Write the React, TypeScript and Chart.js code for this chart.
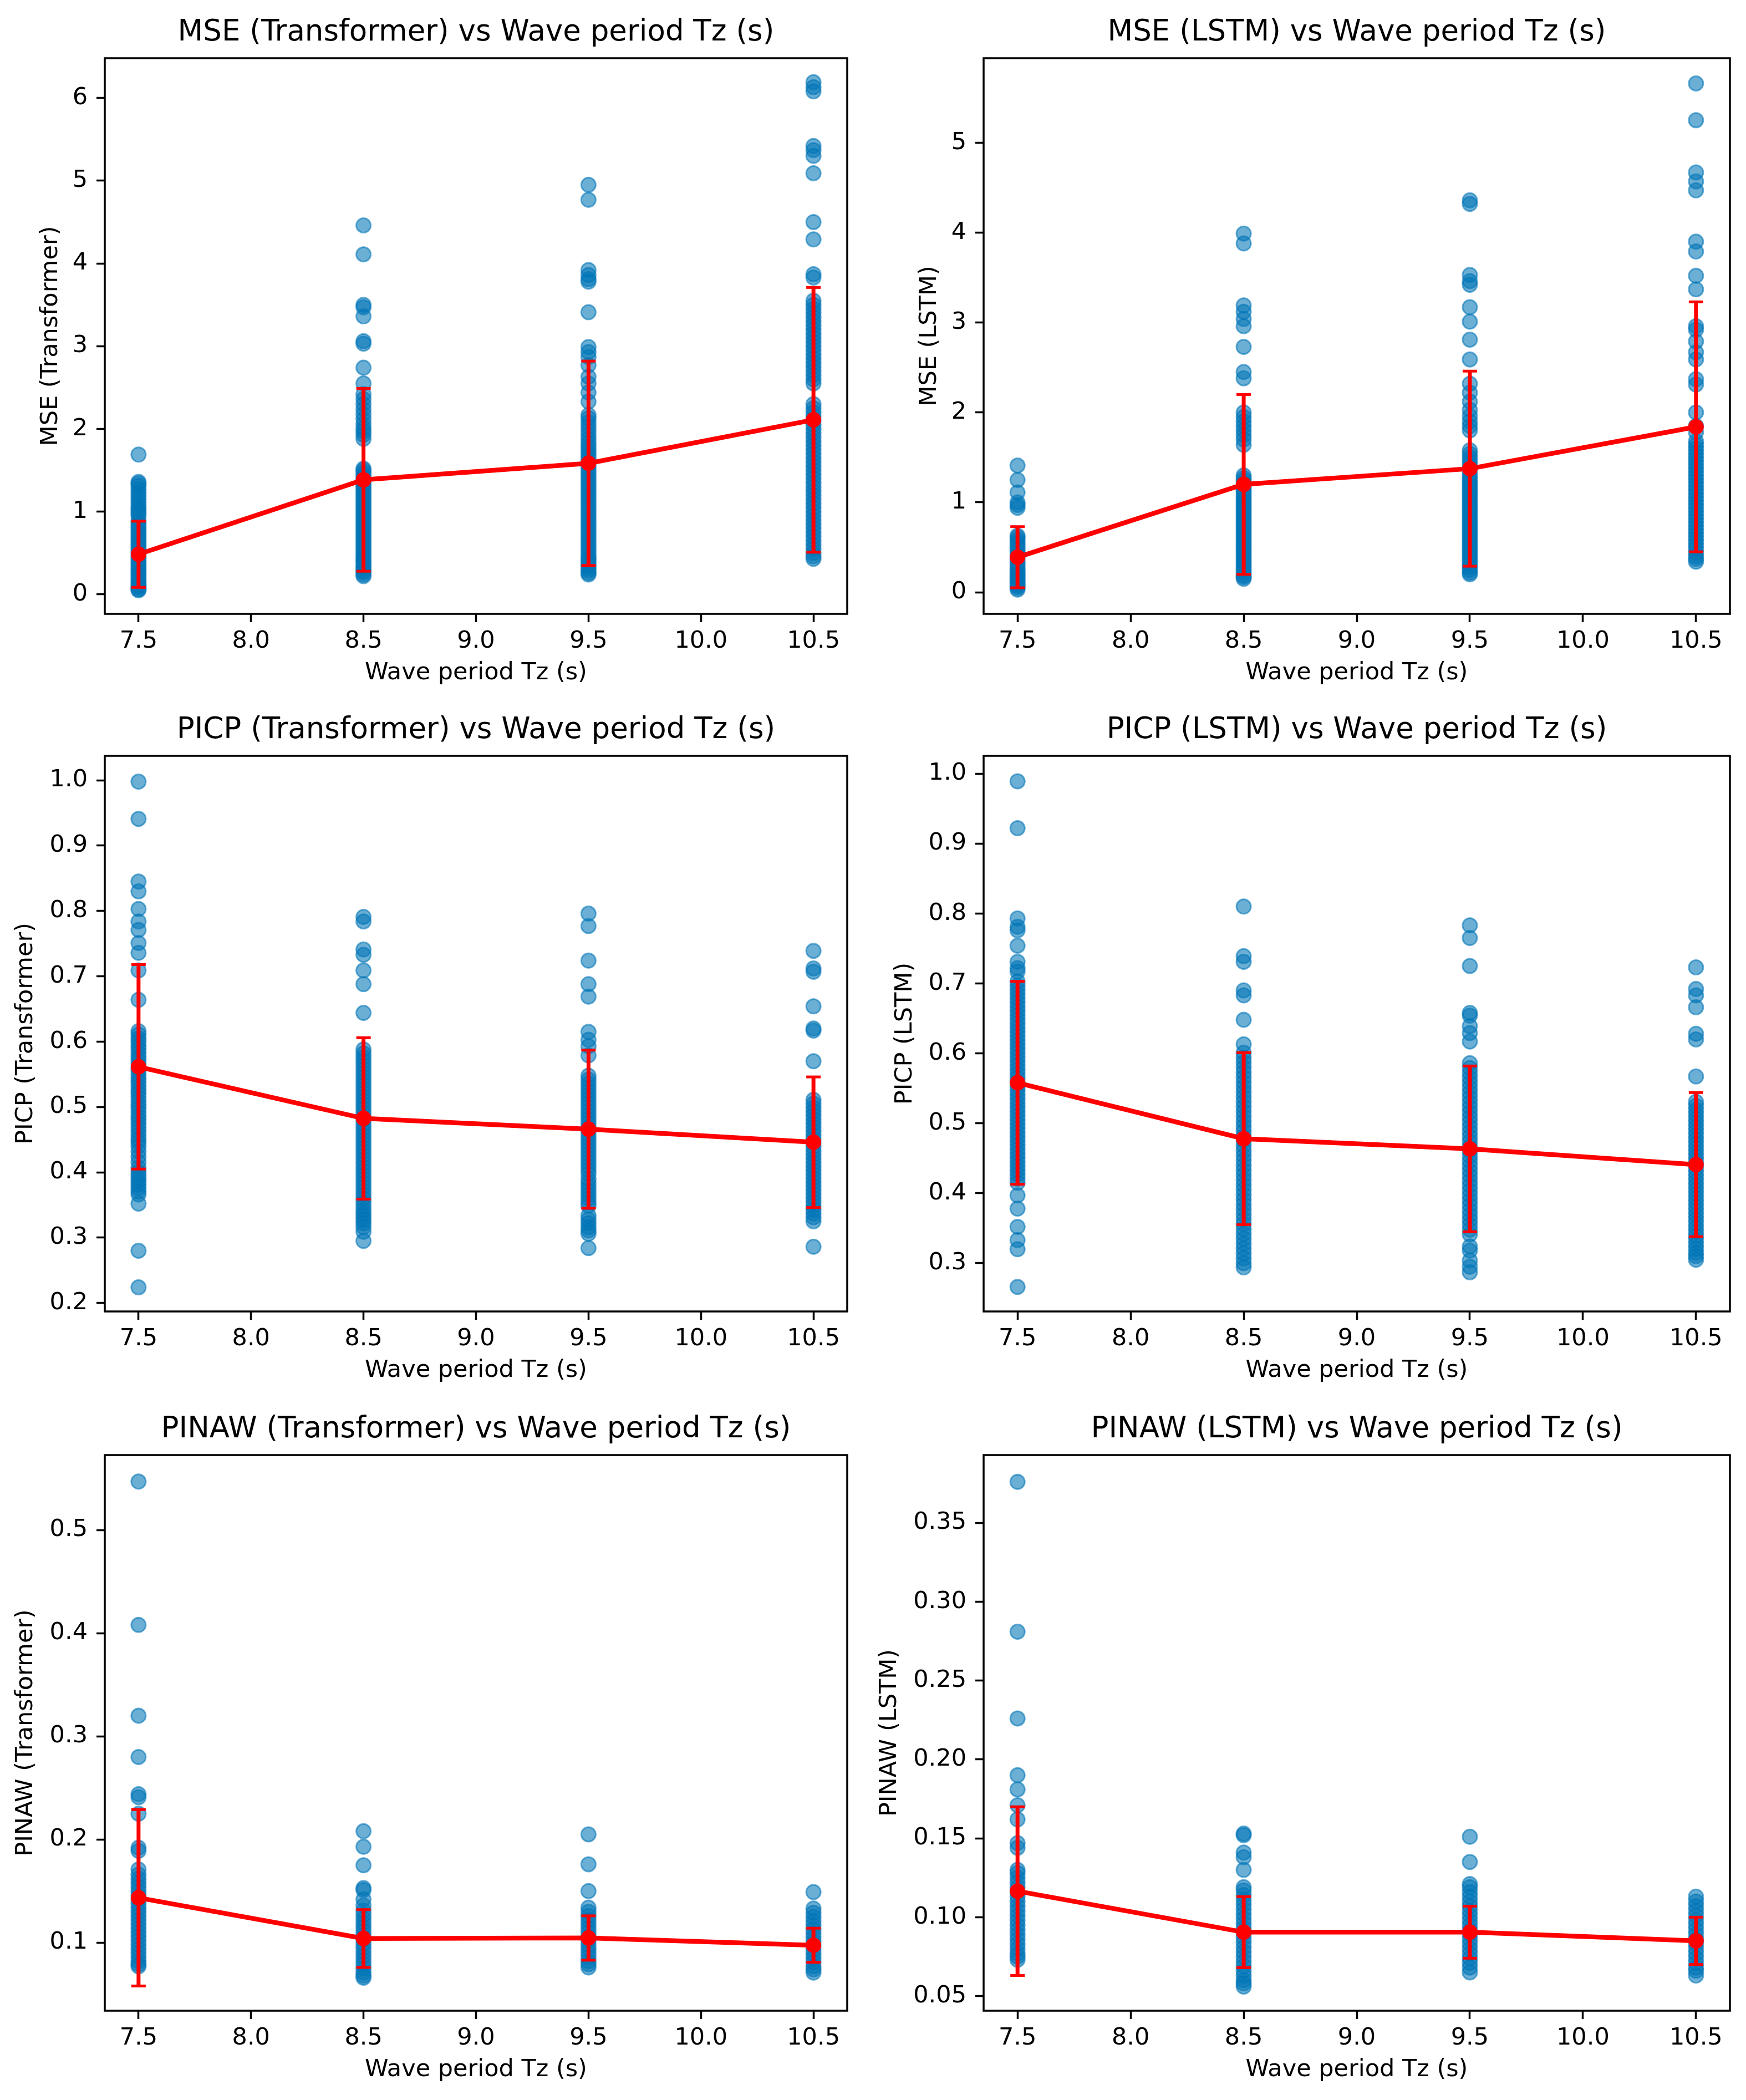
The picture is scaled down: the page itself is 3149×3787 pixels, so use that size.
import React, { useEffect, useRef } from 'react';
import { Chart, registerables } from 'chart.js';

Chart.register(...registerables);

// ---------------- data ----------------
const periods = [7.5, 8.5, 9.5, 10.5];
const xTicks = [7.5, 8.0, 8.5, 9.0, 9.5, 10.0, 10.5];
const xLabel = 'Wave period Tz (s)';

// MSE (Transformer)
const mseTransformerPoints = [
  [1.69, 1.36, 1.34, 1.31, 1.27, 1.23, 1.19, 1.15, 1.11, 1.07, 1.04, 1.01, 0.98, 0.95, 0.89, 0.86, 0.83, 0.80, 0.77, 0.74, 0.71, 0.68, 0.65, 0.62, 0.59, 0.56, 0.53, 0.50, 0.47, 0.44, 0.41, 0.38, 0.35, 0.32, 0.29, 0.26, 0.23, 0.20, 0.17, 0.14, 0.12, 0.10, 0.08, 0.06, 0.05],
  [4.46, 4.11, 3.50, 3.47, 3.36, 3.06, 3.03, 2.74, 2.55, 2.42, 2.36, 2.30, 2.24, 2.18, 2.12, 2.06, 2.01, 1.97, 1.93, 1.88, 1.52, 1.50, 1.47, 1.44, 1.41, 1.38, 1.35, 1.32, 1.29, 1.26, 1.23, 1.20, 1.17, 1.14, 1.11, 1.08, 1.05, 1.02, 0.99, 0.96, 0.93, 0.90, 0.87, 0.84, 0.81, 0.78, 0.75, 0.72, 0.69, 0.66, 0.63, 0.60, 0.57, 0.54, 0.51, 0.48, 0.45, 0.42, 0.40, 0.37, 0.34, 0.32, 0.29, 0.27, 0.24, 0.22],
  [4.95, 4.77, 3.92, 3.86, 3.81, 3.78, 3.41, 2.99, 2.93, 2.87, 2.77, 2.63, 2.55, 2.44, 2.33, 2.17, 2.13, 2.08, 2.03, 1.98, 1.93, 1.88, 1.83, 1.79, 1.75, 1.71, 1.67, 1.63, 1.59, 1.55, 1.51, 1.47, 1.43, 1.39, 1.35, 1.31, 1.27, 1.23, 1.19, 1.15, 1.11, 1.07, 1.03, 0.99, 0.95, 0.91, 0.87, 0.83, 0.79, 0.75, 0.71, 0.67, 0.63, 0.59, 0.55, 0.51, 0.47, 0.44, 0.41, 0.38, 0.35, 0.32, 0.29, 0.26, 0.24],
  [6.19, 6.13, 6.08, 5.42, 5.37, 5.30, 5.09, 4.50, 4.29, 3.87, 3.83, 3.55, 3.50, 3.45, 3.40, 3.35, 3.30, 3.25, 3.20, 3.15, 3.10, 3.05, 3.00, 2.95, 2.90, 2.85, 2.80, 2.75, 2.70, 2.65, 2.60, 2.55, 2.30, 2.25, 2.20, 2.15, 2.10, 2.05, 2.00, 1.95, 1.90, 1.85, 1.80, 1.75, 1.70, 1.65, 1.60, 1.55, 1.50, 1.45, 1.40, 1.35, 1.30, 1.25, 1.20, 1.15, 1.10, 1.05, 1.00, 0.95, 0.90, 0.85, 0.80, 0.75, 0.70, 0.65, 0.60, 0.55, 0.50, 0.46, 0.43],
];
const mseTransformerMean = [0.485, 1.385, 1.585, 2.11];
const mseTransformerStd = [0.40, 1.105, 1.235, 1.60];
const mseTransformerTicks = [0, 1, 2, 3, 4, 5, 6];

// MSE (LSTM)
const mseLstmPoints = [
  [1.41, 1.25, 1.11, 1.00, 0.97, 0.94, 0.63, 0.61, 0.58, 0.55, 0.52, 0.49, 0.46, 0.43, 0.40, 0.37, 0.34, 0.31, 0.28, 0.25, 0.23, 0.21, 0.19, 0.17, 0.15, 0.13, 0.11, 0.09, 0.07, 0.05, 0.03],
  [3.99, 3.88, 3.19, 3.12, 3.04, 2.96, 2.73, 2.45, 2.38, 2.00, 1.95, 1.90, 1.85, 1.80, 1.75, 1.70, 1.64, 1.30, 1.27, 1.24, 1.21, 1.18, 1.15, 1.12, 1.09, 1.06, 1.03, 1.00, 0.97, 0.94, 0.91, 0.88, 0.85, 0.82, 0.79, 0.76, 0.73, 0.70, 0.67, 0.64, 0.61, 0.58, 0.55, 0.52, 0.49, 0.46, 0.43, 0.40, 0.37, 0.34, 0.31, 0.28, 0.25, 0.22, 0.19, 0.17, 0.15],
  [4.36, 4.32, 3.53, 3.46, 3.42, 3.17, 3.01, 2.81, 2.59, 2.32, 2.22, 2.12, 2.03, 1.96, 1.90, 1.85, 1.80, 1.58, 1.54, 1.50, 1.46, 1.42, 1.38, 1.34, 1.30, 1.27, 1.24, 1.21, 1.18, 1.15, 1.12, 1.09, 1.06, 1.03, 1.00, 0.97, 0.94, 0.91, 0.88, 0.85, 0.82, 0.79, 0.76, 0.73, 0.70, 0.67, 0.64, 0.61, 0.58, 0.55, 0.52, 0.49, 0.46, 0.43, 0.40, 0.37, 0.34, 0.31, 0.28, 0.25, 0.22, 0.20],
  [5.66, 5.25, 4.67, 4.57, 4.47, 3.90, 3.79, 3.52, 3.37, 2.96, 2.92, 2.79, 2.67, 2.59, 2.37, 2.31, 2.00, 1.85, 1.78, 1.68, 1.64, 1.60, 1.56, 1.52, 1.48, 1.44, 1.40, 1.36, 1.32, 1.28, 1.24, 1.20, 1.16, 1.12, 1.08, 1.04, 1.00, 0.96, 0.92, 0.88, 0.84, 0.80, 0.76, 0.72, 0.68, 0.64, 0.60, 0.56, 0.52, 0.48, 0.44, 0.40, 0.37, 0.34],
];
const mseLstmMean = [0.39, 1.20, 1.375, 1.84];
const mseLstmStd = [0.34, 1.00, 1.085, 1.39];
const mseLstmTicks = [0, 1, 2, 3, 4, 5];

// PICP (Transformer)
const picpTransformerPoints = [
  [0.998, 0.941, 0.845, 0.830, 0.803, 0.784, 0.771, 0.751, 0.736, 0.709, 0.664, 0.616, 0.611, 0.605, 0.600, 0.594, 0.589, 0.583, 0.577, 0.572, 0.566, 0.560, 0.555, 0.549, 0.543, 0.538, 0.532, 0.526, 0.521, 0.515, 0.509, 0.503, 0.498, 0.492, 0.486, 0.481, 0.475, 0.469, 0.463, 0.457, 0.451, 0.446, 0.440, 0.432, 0.424, 0.416, 0.407, 0.401, 0.396, 0.391, 0.386, 0.381, 0.376, 0.371, 0.366, 0.352, 0.280, 0.224],
  [0.791, 0.784, 0.741, 0.733, 0.709, 0.688, 0.644, 0.588, 0.582, 0.576, 0.570, 0.564, 0.558, 0.552, 0.546, 0.540, 0.534, 0.528, 0.522, 0.516, 0.510, 0.504, 0.498, 0.492, 0.486, 0.480, 0.474, 0.468, 0.462, 0.456, 0.450, 0.444, 0.438, 0.432, 0.426, 0.420, 0.414, 0.408, 0.402, 0.396, 0.390, 0.384, 0.378, 0.372, 0.366, 0.360, 0.354, 0.348, 0.342, 0.337, 0.332, 0.327, 0.322, 0.316, 0.309, 0.295],
  [0.796, 0.777, 0.724, 0.688, 0.669, 0.615, 0.603, 0.593, 0.579, 0.548, 0.542, 0.536, 0.530, 0.524, 0.518, 0.512, 0.506, 0.500, 0.494, 0.488, 0.482, 0.476, 0.470, 0.464, 0.458, 0.452, 0.446, 0.440, 0.434, 0.428, 0.422, 0.416, 0.410, 0.404, 0.398, 0.390, 0.384, 0.378, 0.372, 0.366, 0.360, 0.354, 0.349, 0.334, 0.328, 0.322, 0.316, 0.311, 0.306, 0.284],
  [0.739, 0.712, 0.707, 0.654, 0.620, 0.617, 0.570, 0.511, 0.505, 0.499, 0.493, 0.487, 0.481, 0.475, 0.469, 0.463, 0.457, 0.451, 0.445, 0.439, 0.433, 0.427, 0.421, 0.415, 0.409, 0.403, 0.397, 0.391, 0.385, 0.379, 0.373, 0.367, 0.361, 0.355, 0.349, 0.343, 0.337, 0.331, 0.325, 0.286],
];
const picpTransformerMean = [0.5615, 0.4825, 0.466, 0.446];
const picpTransformerStd = [0.1565, 0.1235, 0.121, 0.100];
const picpTransformerTicks = [0.2, 0.3, 0.4, 0.5, 0.6, 0.7, 0.8, 0.9, 1.0];

// PICP (LSTM)
const picpLstmPoints = [
  [0.989, 0.922, 0.793, 0.781, 0.776, 0.754, 0.731, 0.722, 0.717, 0.703, 0.697, 0.691, 0.685, 0.679, 0.673, 0.667, 0.661, 0.655, 0.649, 0.643, 0.637, 0.631, 0.625, 0.619, 0.613, 0.607, 0.601, 0.595, 0.589, 0.583, 0.577, 0.571, 0.565, 0.559, 0.553, 0.547, 0.541, 0.535, 0.529, 0.523, 0.517, 0.511, 0.505, 0.499, 0.493, 0.487, 0.481, 0.475, 0.469, 0.463, 0.457, 0.451, 0.445, 0.439, 0.433, 0.427, 0.421, 0.415, 0.397, 0.378, 0.352, 0.333, 0.320, 0.266],
  [0.810, 0.739, 0.731, 0.690, 0.683, 0.648, 0.613, 0.601, 0.594, 0.587, 0.580, 0.573, 0.566, 0.559, 0.552, 0.545, 0.538, 0.531, 0.524, 0.517, 0.510, 0.503, 0.496, 0.489, 0.482, 0.475, 0.468, 0.461, 0.454, 0.447, 0.440, 0.433, 0.426, 0.419, 0.412, 0.405, 0.398, 0.391, 0.384, 0.377, 0.370, 0.363, 0.356, 0.349, 0.342, 0.335, 0.328, 0.321, 0.314, 0.307, 0.300, 0.294],
  [0.783, 0.765, 0.725, 0.658, 0.654, 0.639, 0.629, 0.617, 0.586, 0.579, 0.572, 0.565, 0.558, 0.551, 0.544, 0.537, 0.530, 0.523, 0.516, 0.509, 0.502, 0.495, 0.488, 0.481, 0.474, 0.467, 0.460, 0.453, 0.446, 0.439, 0.432, 0.425, 0.418, 0.411, 0.404, 0.397, 0.390, 0.383, 0.376, 0.369, 0.362, 0.355, 0.348, 0.341, 0.324, 0.318, 0.304, 0.295, 0.287],
  [0.723, 0.692, 0.683, 0.666, 0.628, 0.620, 0.567, 0.531, 0.525, 0.519, 0.513, 0.507, 0.501, 0.495, 0.489, 0.483, 0.477, 0.471, 0.465, 0.459, 0.453, 0.447, 0.441, 0.435, 0.429, 0.423, 0.417, 0.411, 0.405, 0.399, 0.393, 0.387, 0.381, 0.375, 0.369, 0.363, 0.357, 0.351, 0.345, 0.339, 0.333, 0.327, 0.321, 0.315, 0.310, 0.305],
];
const picpLstmMean = [0.558, 0.478, 0.4635, 0.441];
const picpLstmStd = [0.145, 0.123, 0.1185, 0.103];
const picpLstmTicks = [0.3, 0.4, 0.5, 0.6, 0.7, 0.8, 0.9, 1.0];

// PINAW (Transformer)
const pinawTransformerPoints = [
  [0.547, 0.408, 0.320, 0.280, 0.244, 0.241, 0.225, 0.192, 0.189, 0.171, 0.166, 0.162, 0.158, 0.154, 0.150, 0.146, 0.142, 0.138, 0.134, 0.130, 0.126, 0.122, 0.118, 0.114, 0.110, 0.106, 0.102, 0.098, 0.094, 0.090, 0.086, 0.082, 0.079, 0.077],
  [0.208, 0.193, 0.175, 0.153, 0.151, 0.142, 0.136, 0.131, 0.127, 0.123, 0.119, 0.115, 0.111, 0.107, 0.103, 0.099, 0.095, 0.091, 0.087, 0.083, 0.079, 0.075, 0.071, 0.068, 0.066],
  [0.205, 0.176, 0.150, 0.134, 0.130, 0.126, 0.122, 0.118, 0.114, 0.110, 0.106, 0.102, 0.098, 0.094, 0.090, 0.086, 0.082, 0.079, 0.076],
  [0.149, 0.133, 0.129, 0.125, 0.121, 0.117, 0.113, 0.109, 0.105, 0.101, 0.097, 0.093, 0.089, 0.085, 0.081, 0.077, 0.074, 0.071],
];
const pinawTransformerMean = [0.1435, 0.104, 0.1045, 0.0975];
const pinawTransformerStd = [0.0855, 0.028, 0.0215, 0.0165];
const pinawTransformerTicks = [0.1, 0.2, 0.3, 0.4, 0.5];

// PINAW (LSTM)
const pinawLstmPoints = [
  [0.376, 0.281, 0.226, 0.190, 0.181, 0.171, 0.162, 0.147, 0.144, 0.130, 0.128, 0.125, 0.122, 0.119, 0.116, 0.113, 0.110, 0.107, 0.104, 0.101, 0.098, 0.095, 0.092, 0.089, 0.086, 0.083, 0.080, 0.077, 0.075, 0.073],
  [0.153, 0.152, 0.141, 0.138, 0.130, 0.119, 0.117, 0.114, 0.111, 0.108, 0.105, 0.102, 0.099, 0.096, 0.093, 0.090, 0.087, 0.084, 0.081, 0.078, 0.075, 0.072, 0.069, 0.066, 0.063, 0.060, 0.058, 0.056],
  [0.151, 0.135, 0.121, 0.119, 0.116, 0.113, 0.110, 0.107, 0.104, 0.101, 0.098, 0.095, 0.092, 0.089, 0.086, 0.083, 0.080, 0.077, 0.074, 0.071, 0.068, 0.065],
  [0.113, 0.110, 0.107, 0.104, 0.101, 0.098, 0.095, 0.092, 0.089, 0.086, 0.083, 0.080, 0.077, 0.074, 0.071, 0.068, 0.066, 0.063],
];
const pinawLstmMean = [0.1165, 0.0905, 0.0905, 0.085];
const pinawLstmStd = [0.0535, 0.0225, 0.0165, 0.015];
const pinawLstmTicks = [0.05, 0.10, 0.15, 0.20, 0.25, 0.30, 0.35];

// ---------------- layout / style ----------------
const FONT = 'DejaVu Sans';
const TICK_SIZE = 43;
const TITLE_SIZE = 53;
const DOT_COLOR = 'rgba(0,118,182,0.58)';
const RED = '#ff0000';
const TITLE_AREA = 105;
const X_AXIS_H = 133;

const PANELS: any[] = [
  { title: 'MSE (Transformer) vs Wave period Tz (s)', yLabel: 'MSE (Transformer)', points: mseTransformerPoints, mean: mseTransformerMean, std: mseTransformerStd, yTicks: mseTransformerTicks, yMin: -0.235, yMax: 6.48, decimals: 0,
    canvasLeft: 0, canvasWidth: 1575, plotLeft: 189, plotRight: 1528, plotTop: 105, plotBottom: 1107, yLabelBase: 107 },
  { title: 'MSE (LSTM) vs Wave period Tz (s)', yLabel: 'MSE (LSTM)', points: mseLstmPoints, mean: mseLstmMean, std: mseLstmStd, yTicks: mseLstmTicks, yMin: -0.24, yMax: 5.94, decimals: 0,
    canvasLeft: 1575, canvasWidth: 1574, plotLeft: 1774, plotRight: 3120, plotTop: 105, plotBottom: 1107, yLabelBase: 1692 },
  { title: 'PICP (Transformer) vs Wave period Tz (s)', yLabel: 'PICP (Transformer)', points: picpTransformerPoints, mean: picpTransformerMean, std: picpTransformerStd, yTicks: picpTransformerTicks, yMin: 0.187, yMax: 1.0375, decimals: 1,
    canvasLeft: 0, canvasWidth: 1575, plotLeft: 189, plotRight: 1528, plotTop: 1363, plotBottom: 2365, yLabelBase: 62 },
  { title: 'PICP (LSTM) vs Wave period Tz (s)', yLabel: 'PICP (LSTM)', points: picpLstmPoints, mean: picpLstmMean, std: picpLstmStd, yTicks: picpLstmTicks, yMin: 0.231, yMax: 1.0255, decimals: 1,
    canvasLeft: 1575, canvasWidth: 1574, plotLeft: 1774, plotRight: 3120, plotTop: 1363, plotBottom: 2365, yLabelBase: 1648 },
  { title: 'PINAW (Transformer) vs Wave period Tz (s)', yLabel: 'PINAW (Transformer)', points: pinawTransformerPoints, mean: pinawTransformerMean, std: pinawTransformerStd, yTicks: pinawTransformerTicks, yMin: 0.034, yMax: 0.5727, decimals: 1,
    canvasLeft: 0, canvasWidth: 1575, plotLeft: 189, plotRight: 1528, plotTop: 2624, plotBottom: 3626, yLabelBase: 62 },
  { title: 'PINAW (LSTM) vs Wave period Tz (s)', yLabel: 'PINAW (LSTM)', points: pinawLstmPoints, mean: pinawLstmMean, std: pinawLstmStd, yTicks: pinawLstmTicks, yMin: 0.0407, yMax: 0.393, decimals: 2,
    canvasLeft: 1575, canvasWidth: 1574, plotLeft: 1774, plotRight: 3120, plotTop: 2624, plotBottom: 3626, yLabelBase: 1620 },
];

const framePlugin = {
  id: 'frame',
  afterDatasetsDraw(chart: any) {
    const { ctx, chartArea: a } = chart;
    ctx.save();
    ctx.strokeStyle = '#000';
    ctx.lineWidth = 3.5;
    ctx.strokeRect(a.left, a.top, a.right - a.left, a.bottom - a.top);
    ctx.restore();
  },
};

function Panel({ p }: { p: any }) {
  const ref = useRef<HTMLCanvasElement>(null);
  const canvasTop = p.plotTop - TITLE_AREA;
  const canvasHeight = p.plotBottom - canvasTop + X_AXIS_H;
  const lineHalf = (TICK_SIZE * 1.2) / 2;
  const padLeft = p.yLabelBase - 15 - p.canvasLeft - lineHalf;
  const yWidth = p.plotLeft - p.canvasLeft - padLeft;
  const padRight = p.canvasLeft + p.canvasWidth - p.plotRight;

  useEffect(() => {
    const scatterData: any[] = [];
    periods.forEach((x, i) => p.points[i].forEach((y: number) => scatterData.push({ x, y })));
    const meanData = periods.map((x, i) => ({ x, y: p.mean[i] }));
    const errData: any[] = [];
    periods.forEach((x, i) => {
      errData.push({ x, y: p.mean[i] - p.std[i] });
      errData.push({ x, y: p.mean[i] + p.std[i] });
      errData.push({ x, y: null });
    });

    const tickFont = { family: FONT, size: TICK_SIZE, lineHeight: 1.2 };
    const titleTop = 27.8;
    const chart = new Chart(ref.current as HTMLCanvasElement, {
      type: 'scatter',
      data: {
        datasets: [
          {
            type: 'line', data: meanData, borderColor: RED, borderWidth: 8.5, showLine: true,
            pointRadius: 14, pointBackgroundColor: RED, pointBorderWidth: 0, pointBorderColor: RED,
          } as any,
          {
            type: 'line', data: errData, borderColor: RED, borderWidth: 7, showLine: true, spanGaps: false,
            pointStyle: 'line', pointRadius: 13, pointBorderWidth: 5, pointBorderColor: RED,
          } as any,
          {
            type: 'scatter', data: scatterData, backgroundColor: DOT_COLOR, borderColor: DOT_COLOR,
            pointRadius: 13, borderWidth: 3,
          } as any,
        ],
      },
      options: {
        animation: false,
        responsive: true,
        maintainAspectRatio: false,
        events: [],
        layout: { padding: { left: padLeft, right: padRight, top: 0, bottom: 0 } },
        plugins: {
          legend: { display: false },
          tooltip: { enabled: false },
          title: {
            display: true, text: p.title, fullSize: false, color: '#000',
            font: { family: FONT, size: TITLE_SIZE, weight: 'normal', lineHeight: 1.2 },
            padding: { top: titleTop - (TITLE_SIZE * 1.2 - 62.4) / 2, bottom: TITLE_AREA - (titleTop - (TITLE_SIZE * 1.2 - 62.4) / 2) - TITLE_SIZE * 1.2 },
          },
        },
        scales: {
          x: {
            type: 'linear', min: 7.35, max: 10.65,
            afterBuildTicks: (s: any) => { s.ticks = xTicks.map((v) => ({ value: v })); },
            afterFit: (s: any) => { s.height = X_AXIS_H; },
            ticks: { color: '#000', font: tickFont, padding: 9, maxRotation: 0, autoSkip: false,
              callback: (v: any) => Number(v).toFixed(1) },
            grid: { drawOnChartArea: false, drawTicks: true, tickLength: 15, tickWidth: 3.5, tickColor: '#000' },
            border: { display: false },
            title: { display: true, text: xLabel, color: '#000', font: tickFont, padding: 0 },
          },
          y: {
            type: 'linear', min: p.yMin, max: p.yMax,
            afterBuildTicks: (s: any) => { s.ticks = p.yTicks.map((v: number) => ({ value: v })); },
            afterFit: (s: any) => { s.width = yWidth; },
            ticks: { color: '#000', font: tickFont, padding: 16, autoSkip: false,
              callback: (v: any) => Number(v).toFixed(p.decimals) },
            grid: { drawOnChartArea: false, drawTicks: true, tickLength: 15, tickWidth: 3.5, tickColor: '#000' },
            border: { display: false },
            title: { display: true, text: p.yLabel, color: '#000', font: tickFont, padding: 0 },
          },
        },
      } as any,
      plugins: [framePlugin],
    });
    return () => chart.destroy();
  }, []);

  return (
    <div style={{ position: 'absolute', left: p.canvasLeft, top: canvasTop, width: p.canvasWidth, height: canvasHeight }}>
      <canvas ref={ref} />
    </div>
  );
}

export default function App() {
  return (
    <div style={{ position: 'absolute', left: 0, top: 0, width: 3149, height: 3787, background: '#fff' }}>
      {PANELS.map((p, i) => (
        <Panel key={i} p={p} />
      ))}
    </div>
  );
}
